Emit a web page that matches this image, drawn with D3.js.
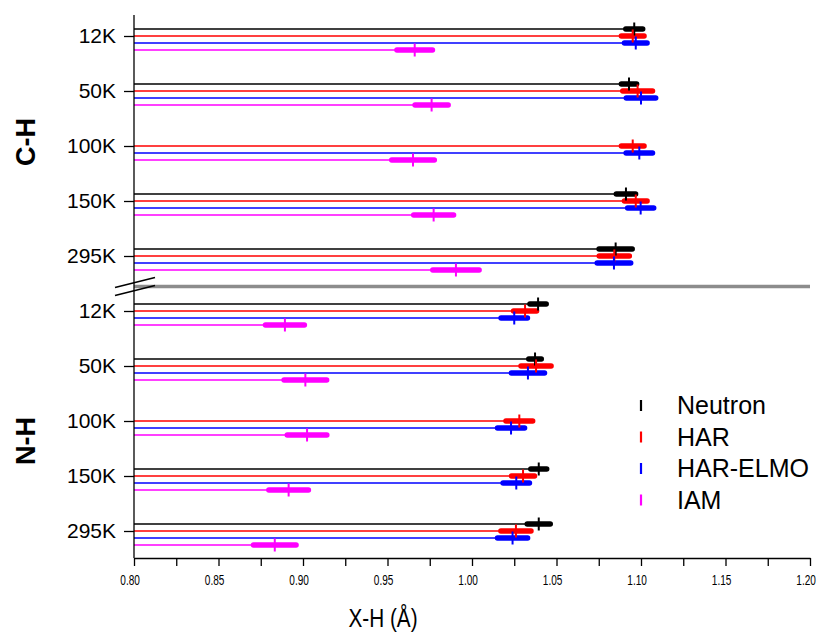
<!DOCTYPE html>
<html>
<head>
<meta charset="utf-8">
<script src="https://cdn.jsdelivr.net/npm/d3@7"></script>
<style>
  body { margin: 0; background: #fff; }
  svg { display: block; }
</style>
</head>
<body>
<div id="chart"></div>
<script>
// categories
var bonds = ["C-H", "N-H"];
var temps = ["12K", "50K", "100K", "150K", "295K"];
var seriesNames = ["Neutron", "HAR", "HAR-ELMO", "IAM"];

// bond lengths (Å) per temperature, null = not measured
var neutronCH = [1.0960, 1.0929, null, 1.0911, 1.0850];
var neutronCHerr = [0.0050, 0.0045, null, 0.0057, 0.0098];
var harCH = [1.0951, 1.0980, 1.0951, 1.0969, 1.0842];
var harCHerr = [0.0067, 0.0088, 0.0067, 0.0067, 0.0089];
var elmoCH = [1.0969, 1.1000, 1.0990, 1.0998, 1.0840];
var elmoCHerr = [0.0067, 0.0087, 0.0078, 0.0077, 0.0099];
var iamCH = [0.9661, 0.9761, 0.9651, 0.9773, 0.9905];
var iamCHerr = [0.0105, 0.0098, 0.0126, 0.0118, 0.0137];

var neutronNH = [1.0391, 1.0373, null, 1.0395, 1.0395];
var neutronNHerr = [0.0048, 0.0037, null, 0.0047, 0.0068];
var harNH = [1.0314, 1.0379, 1.0280, 1.0302, 1.0260];
var harNHerr = [0.0068, 0.0089, 0.0079, 0.0068, 0.0089];
var elmoNH = [1.0250, 1.0331, 1.0231, 1.0262, 1.0240];
var elmoNHerr = [0.0078, 0.0098, 0.0080, 0.0078, 0.0089];
var iamNH = [0.8893, 0.9014, 0.9024, 0.8915, 0.8833];
var iamNHerr = [0.0115, 0.0126, 0.0117, 0.0117, 0.0126];

var xTicks = [0.80, 0.85, 0.90, 0.95, 1.00, 1.05, 1.10, 1.15, 1.20];

var colors = ["#000000", "#ff0000", "#0000ff", "#ff00ff"];
var offsets = [-7, 0, 7, 14];

var svgWidth = 824;
var svgHeight = 635;

var svg = d3.select("#chart")
  .append("svg")
  .attr("width", svgWidth)
  .attr("height", svgHeight);

// scales
var xScale = d3.scaleLinear()
  .domain([0.8, 1.2])
  .range([134, 810]);

var rowKeys = [];
bonds.forEach(function(b) {
  temps.forEach(function(t) { rowKeys.push(b + "|" + t); });
});

var yScale = d3.scalePoint()
  .domain(rowKeys)
  .range([36, 531]);

// build records
var table = {
  "C-H": [[neutronCH, neutronCHerr], [harCH, harCHerr], [elmoCH, elmoCHerr], [iamCH, iamCHerr]],
  "N-H": [[neutronNH, neutronNHerr], [harNH, harNHerr], [elmoNH, elmoNHerr], [iamNH, iamNHerr]]
};
var records = [];
bonds.forEach(function(b) {
  table[b].forEach(function(s, si) {
    temps.forEach(function(t, ti) {
      if (s[0][ti] == null) return;
      records.push({ key: b + "|" + t, series: si, value: s[0][ti], err: s[1][ti] });
    });
  });
});

// break line between the two panels
var breakY = (yScale("C-H|295K") + yScale("N-H|12K")) / 2 + 3;
svg.append("line")
  .attr("x1", xScale(0.8)).attr("x2", xScale(1.2))
  .attr("y1", breakY).attr("y2", breakY)
  .attr("stroke", "#8c8c8c")
  .attr("stroke-width", 3.5);

// thin lines from axis to value
var marks = svg.append("g");
marks.selectAll(".stem")
  .data(records)
  .enter()
  .append("line")
  .attr("class", "stem")
  .attr("x1", xScale(0.8))
  .attr("x2", d => xScale(d.value))
  .attr("y1", d => yScale(d.key) + offsets[d.series])
  .attr("y2", d => yScale(d.key) + offsets[d.series])
  .attr("stroke", d => colors[d.series])
  .attr("stroke-width", 1.6);

// error bars (thick, rounded)
marks.selectAll(".errbar")
  .data(records)
  .enter()
  .append("line")
  .attr("class", "errbar")
  .attr("x1", d => xScale(d.value - d.err))
  .attr("x2", d => xScale(d.value + d.err))
  .attr("y1", d => yScale(d.key) + offsets[d.series])
  .attr("y2", d => yScale(d.key) + offsets[d.series])
  .attr("stroke", d => colors[d.series])
  .attr("stroke-width", 5.5)
  .attr("stroke-linecap", "round");

// value ticks
marks.selectAll(".vtick")
  .data(records)
  .enter()
  .append("line")
  .attr("class", "vtick")
  .attr("x1", d => xScale(d.value))
  .attr("x2", d => xScale(d.value))
  .attr("y1", d => yScale(d.key) + offsets[d.series] - 6.5)
  .attr("y2", d => yScale(d.key) + offsets[d.series] + 6.5)
  .attr("stroke", d => colors[d.series])
  .attr("stroke-width", 2);

// left axis
var leftAxis = d3.axisLeft(yScale)
  .tickSize(10)
  .tickPadding(8)
  .tickFormat(d => d.split("|")[1]);

var yAxisG = svg.append("g")
  .attr("transform", `translate(${xScale(0.8)}, 0)`)
  .call(leftAxis);
yAxisG.select(".domain").remove();
yAxisG.selectAll("line").attr("stroke", "#000").attr("stroke-width", 1.3);
yAxisG.selectAll("text")
  .attr("font-family", "'Liberation Sans', Arial, sans-serif")
  .attr("font-size", "21px")
  .attr("fill", "#000");

svg.append("line")
  .attr("x1", xScale(0.8)).attr("x2", xScale(0.8))
  .attr("y1", 15).attr("y2", 558)
  .attr("stroke", "#000")
  .attr("stroke-width", 1.3);

// axis break marks
[[0, 0], [1, 8]].forEach(function(p) {
  svg.append("line")
    .attr("x1", 115).attr("y1", breakY + 1 + p[1])
    .attr("x2", 155).attr("y2", breakY - 9 + p[1])
    .attr("stroke", "#000")
    .attr("stroke-width", 1.3);
});

// bottom axis
var minorTicks = d3.range(0, 17).map(i => 0.8 + i * 0.025);
var bottomAxis = d3.axisBottom(xScale)
  .tickValues(minorTicks)
  .tickSize(8)
  .tickSizeOuter(0)
  .tickPadding(9)
  .tickFormat(function(d) {
    var hit = xTicks.find(t => Math.abs(t - d) < 1e-6);
    return hit != null ? d3.format(".2f")(hit) : "";
  });

var xAxisG = svg.append("g")
  .attr("transform", "translate(0, 558)")
  .call(bottomAxis);
xAxisG.select(".domain").attr("stroke", "#000").attr("stroke-width", 1.3);
xAxisG.selectAll("line").attr("stroke", "#000").attr("stroke-width", 1.3);
xAxisG.selectAll("text")
  .attr("font-family", "'Liberation Sans', Arial, sans-serif")
  .attr("font-size", "14px")
  .attr("transform", "scale(0.72,1)")
  .attr("dx", "-6")
  .attr("fill", "#000");

// axis title
svg.append("text")
  .attr("transform", "translate(383, 627) scale(0.83,1)")
  .attr("text-anchor", "middle")
  .attr("font-family", "'Liberation Sans', Arial, sans-serif")
  .attr("font-size", "25px")
  .text("X-H (Å)");

// group labels
var groupCenters = { "C-H": 142, "N-H": 441 };
bonds.forEach(function(b) {
  svg.append("text")
    .attr("transform", `translate(35, ${groupCenters[b]}) rotate(-90)`)
    .attr("text-anchor", "middle")
    .attr("font-family", "'Liberation Sans', Arial, sans-serif")
    .attr("font-weight", "bold")
    .attr("font-size", "27px")
    .text(b);
});

// legend
var legend = svg.append("g")
  .attr("transform", "translate(641, 405)");
seriesNames.forEach(function(name, i) {
  var row = legend.append("g").attr("transform", `translate(0, ${i * 31.5})`);
  row.append("line")
    .attr("x1", 0).attr("x2", 0)
    .attr("y1", -5).attr("y2", 6)
    .attr("stroke", colors[i])
    .attr("stroke-width", 2.2);
  row.append("text")
    .attr("x", 36)
    .attr("y", 9)
    .attr("font-family", "'Liberation Sans', Arial, sans-serif")
    .attr("font-size", "25px")
    .text(name);
});
</script>
</body>
</html>
